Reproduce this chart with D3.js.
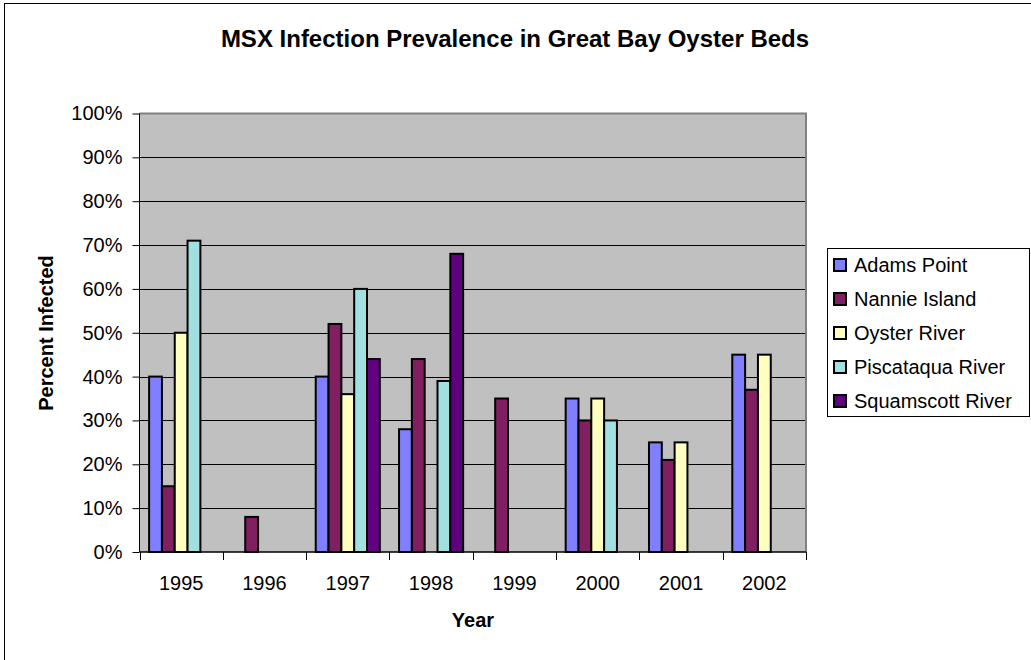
<!DOCTYPE html>
<html>
<head>
<meta charset="utf-8">
<title>MSX Infection Prevalence</title>
<script src="https://cdn.jsdelivr.net/npm/d3@7"></script>
<style>
    body { margin: 0; background: #fff; }
    text { font-family: "Liberation Sans", Arial, sans-serif; }
</style>
</head>
<body>
<div id="chart"></div>
<script>
// Categories along the x axis
var years = ["1995", "1996", "1997", "1998", "1999", "2000", "2001", "2002"];

// Oyster beds (one series each)
var beds = ["Adams Point", "Nannie Island", "Oyster River", "Piscataqua River", "Squamscott River"];

// Percent infected per year, null where the bed was not sampled
var adamsPoint      = [0.40, null, 0.40, 0.28, null, 0.35, 0.25, 0.45];
var nannieIsland    = [0.15, 0.08, 0.52, 0.44, 0.35, 0.30, 0.21, 0.37];
var oysterRiver     = [0.50, null, 0.36, null, null, 0.35, 0.25, 0.45];
var piscataquaRiver = [0.71, null, 0.60, 0.39, null, 0.30, null, null];
var squamscottRiver = [null, null, 0.44, 0.68, null, null, null, null];

// Y axis ticks
var yTicks = [0, 0.1, 0.2, 0.3, 0.4, 0.5, 0.6, 0.7, 0.8, 0.9, 1.0];

function init(){
    var w = 1031;
    var h = 660;

    var values = [adamsPoint, nannieIsland, oysterRiver, piscataquaRiver, squamscottRiver];
    var colors = ["#8080FF", "#802060", "#FFFFC0", "#A0E0E0", "#600080"];

    // plot area edges
    var left = 139.5, right = 806, top = 113.5, bottom = 552;

    var x0 = d3.scaleBand()
                .domain(years)
                .range([left, right])
                .padding(0);

    var x1 = d3.scaleBand()
                .domain(beds)
                .range([0, x0.bandwidth()])
                .paddingInner(0)
                .paddingOuter(0.75); // gap width 150%

    var y = d3.scaleLinear()
                .domain([0, 1])
                .range([bottom, top]);

    var color = d3.scaleOrdinal()
                .domain(beds)
                .range(colors);

    var svg = d3.select("#chart")
                .append("svg")
                .attr("width", w)
                .attr("height", h);

    // outer chart frame
    svg.append("rect")
        .attr("x", 4.5)
        .attr("y", 3.5)
        .attr("width", w + 10)
        .attr("height", h + 10)
        .attr("fill", "#fff")
        .attr("stroke", "#000")
        .attr("stroke-width", 1);

    // grey plot background
    svg.append("rect")
        .attr("x", left)
        .attr("y", top)
        .attr("width", right - left)
        .attr("height", bottom - top)
        .attr("fill", "#C0C0C0");

    // horizontal gridlines
    svg.append("g")
        .selectAll("line")
        .data(yTicks.slice(1, -1))
        .enter()
        .append("line")
        .attr("x1", left)
        .attr("x2", right)
        .attr("y1", function(d){ return Math.round(y(d)) + 0.5; })
        .attr("y2", function(d){ return Math.round(y(d)) + 0.5; })
        .attr("stroke", "#000")
        .attr("stroke-width", 1);

    // plot area border (top + right grey)
    svg.append("path")
        .attr("d", "M" + left + "," + top + "H" + right + "V" + bottom)
        .attr("fill", "none")
        .attr("stroke", "#808080")
        .attr("stroke-width", 2);

    // bars, one group per year
    var rows = years.map(function(yr, i){
        return beds.map(function(b, j){
            return {year: yr, bed: b, value: values[j][i]};
        }).filter(function(d){ return d.value !== null; });
    });

    svg.append("g")
        .selectAll("g")
        .data(rows)
        .enter()
        .append("g")
        .attr("transform", function(d, i){ return "translate(" + x0(years[i]) + ",0)"; })
        .selectAll("rect")
        .data(function(d){ return d; })
        .enter()
        .append("rect")
        .attr("x", function(d){ return x1(d.bed); })
        .attr("y", function(d){ return y(d.value); })
        .attr("width", x1.bandwidth())
        .attr("height", function(d){ return bottom - y(d.value); })
        .attr("fill", function(d){ return color(d.bed); })
        .attr("stroke", "#000")
        .attr("stroke-width", 2);

    // y axis
    var yAxis = d3.axisLeft(y)
                .tickValues(yTicks)
                .tickFormat(d3.format(".0%"))
                .tickSize(7)
                .tickPadding(10);

    var gy = svg.append("g")
                .attr("transform", "translate(" + left + ",0)")
                .call(yAxis);
    gy.select(".domain").attr("stroke", "#000").attr("d", "M0," + top + "V" + bottom);
    gy.selectAll(".tick line").attr("stroke", "#000");
    gy.selectAll(".tick text")
        .attr("font-size", 20)
        .attr("fill", "#000")
        .attr("font-family", "Liberation Sans, Arial, sans-serif");

    // x axis: ticks at category boundaries, labels centred
    svg.append("line")
        .attr("x1", left)
        .attr("x2", right)
        .attr("y1", bottom)
        .attr("y2", bottom)
        .attr("stroke", "#000")
        .attr("stroke-width", 1.5);

    var bounds = years.map(function(yr){ return x0(yr); }).concat([right]);
    svg.append("g")
        .selectAll("line")
        .data(bounds)
        .enter()
        .append("line")
        .attr("x1", function(d){ return Math.round(d) + 0.5; })
        .attr("x2", function(d){ return Math.round(d) + 0.5; })
        .attr("y1", bottom)
        .attr("y2", bottom + 8)
        .attr("stroke", "#000");

    svg.append("g")
        .selectAll("text")
        .data(years)
        .enter()
        .append("text")
        .text(function(d){ return d; })
        .attr("x", function(d){ return x0(d) + x0.bandwidth()/2; })
        .attr("y", 590)
        .attr("text-anchor", "middle")
        .attr("font-size", 20)
        .attr("fill", "#000");

    // title and axis titles
    svg.append("text")
        .text("MSX Infection Prevalence in Great Bay Oyster Beds")
        .attr("x", 515)
        .attr("y", 47)
        .attr("text-anchor", "middle")
        .attr("font-size", 24)
        .attr("font-weight", "bold");

    svg.append("text")
        .text("Year")
        .attr("x", 473)
        .attr("y", 627)
        .attr("text-anchor", "middle")
        .attr("font-size", 20)
        .attr("font-weight", "bold");

    svg.append("text")
        .text("Percent Infected")
        .attr("transform", "translate(53,333) rotate(-90)")
        .attr("text-anchor", "middle")
        .attr("font-size", 20)
        .attr("font-weight", "bold");

    // legend
    var legend = svg.append("g")
                .attr("transform", "translate(827,248)");

    legend.append("rect")
        .attr("x", 0.5)
        .attr("y", 0.5)
        .attr("width", 202)
        .attr("height", 168)
        .attr("fill", "#fff")
        .attr("stroke", "#000")
        .attr("stroke-width", 1);

    var items = legend.selectAll(".item")
                .data(beds)
                .enter()
                .append("g")
                .attr("class", "item")
                .attr("transform", function(d, i){ return "translate(0," + (i * 34) + ")"; });

    items.append("rect")
        .attr("x", 7)
        .attr("y", 11)
        .attr("width", 12)
        .attr("height", 12)
        .attr("fill", function(d){ return color(d); })
        .attr("stroke", "#000")
        .attr("stroke-width", 2);

    items.append("text")
        .text(function(d){ return d; })
        .attr("x", 27)
        .attr("y", 24)
        .attr("font-size", 20)
        .attr("fill", "#000");
}
window.onload = init;
</script>
</body>
</html>
